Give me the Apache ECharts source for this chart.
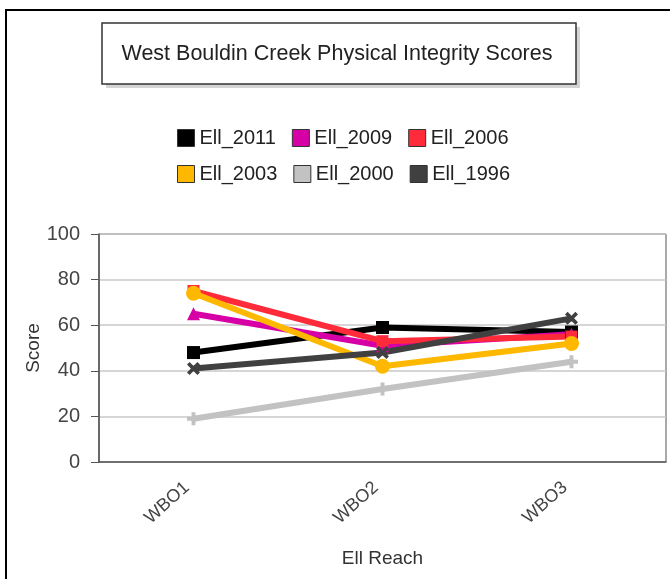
<!DOCTYPE html>
<html><head><meta charset="utf-8">
<script src="https://cdn.jsdelivr.net/npm/echarts@6/dist/echarts.min.js"></script>
<style>html,body{margin:0;padding:0;background:#fff}#c{width:670px;height:579px}</style>
</head><body><div id="c"></div>
<script>
const categories = ['WBO1', 'WBO2', 'WBO3'];
const seriesNames = ['Ell_2011', 'Ell_2009', 'Ell_2006', 'Ell_2003', 'Ell_2000', 'Ell_1996'];
const ell2011 = [48, 59, 57];
const ell2009 = [65, 51, 56];
const ell2006 = [75, 53, 55];
const ell2003 = [74, 42, 52];
const ell2000 = [19, 32, 44];
const ell1996 = [41, 48, 63];
const yTicks = [0, 20, 40, 60, 80, 100];

const values = [ell2011, ell2009, ell2006, ell2003, ell2000, ell1996];
const colors = ['#000000', '#d600a6', '#ff2b3b', '#ffb800', '#c2c2c2', '#404040'];
const xPath = 'path://M0,2 L2,0 L5,3 L8,0 L10,2 L7,5 L10,8 L8,10 L5,7 L2,10 L0,8 L3,5 Z';
const plusPath = 'path://M3.5,0 L6.5,0 L6.5,3.5 L10,3.5 L10,6.5 L6.5,6.5 L6.5,10 L3.5,10 L3.5,6.5 L0,6.5 L0,3.5 L3.5,3.5 Z';
const symbols = ['rect', 'triangle', 'rect', 'circle', plusPath, xPath];
const sizes = [13, 13, 12, 15, 13, 13];
const FONT = 'Liberation Sans, Arial, sans-serif';

const chart = echarts.init(document.getElementById('c'));
chart.setOption({
  animation: false,
  textStyle: {fontFamily: FONT},
  graphic: [
    {type: 'rect', shape: {x: 6, y: 10, width: 700, height: 600}, style: {fill: 'none', stroke: '#000', lineWidth: 2}, z: -10},
    {type: 'rect', shape: {x: 106, y: 27, width: 474, height: 61}, style: {fill: '#d4d4d4'}, z: -5},
    {type: 'rect', shape: {x: 102, y: 23, width: 474, height: 61}, style: {fill: '#fff', stroke: '#333', lineWidth: 1.5}, z: -4},
    {type: 'text', x: 337, y: 54, style: {text: 'West Bouldin Creek Physical Integrity Scores', fill: '#222', font: '21.5px ' + FONT, textAlign: 'center', textVerticalAlign: 'middle'}}
  ],
  legend: {
    left: 172, top: 123, width: 380,
    itemWidth: 17, itemHeight: 17, itemGap: 16,
    icon: 'rect',
    itemStyle: {borderColor: '#333', borderWidth: 1},
    textStyle: {fontSize: 20, color: '#222', padding: [0, 0, 0, 0]},
    data: seriesNames
  },
  grid: {left: 99, right: 4, top: 234, bottom: 117, show: true, borderColor: '#555', borderWidth: 1},
  xAxis: {
    type: 'category', data: categories, boundaryGap: true,
    name: 'Ell Reach', nameLocation: 'middle', nameGap: 87,
    nameTextStyle: {fontSize: 19, color: '#333'},
    axisLine: {lineStyle: {color: '#555', width: 1.5}},
    axisTick: {alignWithLabel: true, length: 8, lineStyle: {color: '#555'}},
    axisLabel: {rotate: 42, fontSize: 18, color: '#444', margin: 17, padding: [0, 9, 0, 0]},
    splitLine: {show: false}
  },
  yAxis: {
    type: 'value', min: 0, max: 100, interval: 20,
    name: 'Score', nameLocation: 'middle', nameGap: 56, nameRotate: 90, nameMoveOverlap: false,
    nameTextStyle: {fontSize: 19, color: '#333'},
    axisLine: {show: true, lineStyle: {color: '#555', width: 1.5}},
    axisTick: {show: true, length: 8, lineStyle: {color: '#555'}},
    axisLabel: {fontSize: 20, color: '#444', margin: 19, formatter: v => yTicks.includes(v) ? String(v) : ''},
    splitLine: {lineStyle: {color: '#c8c8c8', width: 1.5}}
  },
  series: seriesNames.map((n, i) => ({
    name: n, type: 'line', data: values[i],
    symbol: symbols[i], symbolSize: sizes[i], showSymbol: true,
    lineStyle: {width: 6, color: colors[i]},
    itemStyle: {color: colors[i]},
    emphasis: {disabled: true}
  }))
});
</script></body></html>
